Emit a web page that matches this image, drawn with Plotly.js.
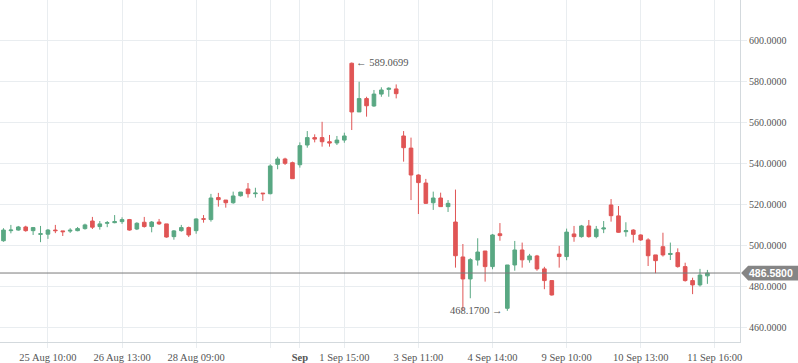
<!DOCTYPE html>
<html>
<head>
<meta charset="utf-8">
<script src="https://cdn.plot.ly/plotly-3.0.1.min.js"></script>
<style>
html,body{margin:0;padding:0;background:#fff;}
#chart{width:798px;height:363px;}
</style>
</head>
<body>
<div id="chart"></div>
<script>
// Trading sessions: [day label, first hour, last hour] (hourly bars)
const sessions = [
  ['24 Aug', 11, 15], ['25 Aug', 9, 15], ['26 Aug', 9, 15], ['27 Aug', 9, 15],
  ['28 Aug', 9, 15], ['31 Aug', 9, 15], ['1 Sep', 9, 15], ['2 Sep', 9, 15],
  ['3 Sep', 9, 15], ['4 Sep', 9, 15], ['8 Sep', 9, 15], ['9 Sep', 9, 15],
  ['10 Sep', 9, 15], ['11 Sep', 9, 15]
];

const open = [
  502.3, 507.2, 507.5, 509.0, 507.2, 505.4, 505.5, 507.5, 507.1, 507.0,
  507.2, 508.2, 511.9, 509.2, 510.8, 511.1, 511.6, 512.6, 508.0, 511.3,
  509.2, 511.4, 510.5, 504.3, 507.2, 508.7, 507.2, 513.0, 512.6, 523.3,
  522.1, 520.8, 524.2, 527.5, 525.2, 525.5, 525.2, 539.5, 542.1, 540.3,
  539.3, 548.9, 552.5, 552.5, 550.5, 549.9, 551.3, 588.7, 565.0, 571.5,
  567.9, 573.7, 576.0, 576.2, 553.3, 547.4, 534.3, 530.4, 520.8, 523.1,
  518.9, 511.4, 494.4, 483.7, 492.9, 497.3, 489.7, 505.7, 469.4, 490.5,
  497.8, 493.0, 494.9, 488.6, 482.9, 495.8, 494.6, 505.6, 504.3, 509.5,
  504.3, 508.0, 519.7, 514.4, 506.7, 507.5, 505.1, 502.7, 495.4, 499.4,
  495.6, 496.5, 489.7, 482.9, 480.8, 485.2
];
const high = [
  508.4, 510.0, 509.5, 509.6, 509.0, 509.5, 508.0, 510.0, 507.1, 508.4,
  509.0, 510.6, 513.9, 511.9, 511.9, 514.8, 513.7, 512.9, 511.3, 513.9,
  511.9, 512.9, 510.5, 507.5, 510.0, 509.2, 513.2, 514.8, 525.1, 525.6,
  522.1, 526.2, 526.0, 530.4, 528.1, 525.5, 539.5, 543.2, 542.7, 540.8,
  550.2, 555.7, 554.1, 560.2, 553.8, 553.3, 554.9, 589.0699, 579.7, 572.4,
  575.7, 577.0, 577.0, 578.4, 555.7, 552.5, 534.6, 532.4, 526.2, 525.7,
  522.1, 527.2, 500.7, 493.8, 503.5, 497.3, 505.6, 510.9, 490.5, 502.2,
  501.4, 495.9, 495.4, 489.6, 482.9, 499.8, 508.2, 509.5, 510.0, 512.4,
  509.5, 511.9, 522.6, 519.2, 511.3, 507.9, 505.4, 503.5, 495.4, 506.2,
  501.4, 498.6, 491.6, 484.3, 488.6, 488.1
];
const low = [
  501.8, 505.9, 507.2, 506.7, 505.1, 501.6, 503.2, 506.0, 504.6, 506.1,
  506.9, 507.7, 508.0, 507.7, 508.9, 510.8, 510.5, 507.2, 507.5, 508.7,
  506.4, 510.0, 503.8, 502.8, 506.7, 504.1, 505.7, 511.1, 511.6, 518.9,
  518.4, 520.3, 523.8, 523.3, 523.3, 521.7, 524.9, 537.1, 539.2, 532.5,
  537.9, 547.6, 550.2, 548.1, 548.1, 548.9, 550.0, 556.2, 565.0, 562.7,
  567.5, 572.4, 572.4, 571.6, 540.8, 522.1, 515.3, 520.2, 517.3, 518.9,
  516.3, 489.2, 468.4, 474.3, 490.2, 482.4, 488.4, 502.3, 468.17, 487.7,
  489.2, 491.6, 487.7, 478.7, 475.6, 489.2, 492.8, 501.8, 503.8, 503.8,
  503.5, 506.0, 511.6, 506.2, 504.3, 501.4, 502.2, 490.0, 486.5, 494.6,
  492.9, 489.2, 482.4, 476.3, 480.0, 481.3
];
const close = [
  507.5, 507.5, 509.0, 507.2, 508.7, 505.7, 507.5, 507.2, 506.7, 507.4,
  508.2, 510.0, 508.9, 510.5, 511.1, 511.6, 512.6, 507.5, 510.8, 509.2,
  511.4, 510.5, 504.1, 507.1, 508.7, 505.1, 512.9, 512.8, 523.1, 522.3,
  520.8, 524.1, 526.0, 525.2, 525.5, 525.2, 538.7, 542.1, 540.0, 532.5,
  548.6, 552.5, 551.8, 550.5, 549.9, 551.3, 553.3, 565.0, 571.5, 568.0,
  573.7, 575.7, 576.5, 573.9, 547.6, 534.3, 530.6, 520.5, 523.1, 518.9,
  520.5, 495.0, 483.7, 493.1, 496.8, 489.7, 505.1, 504.8, 490.5, 497.8,
  493.0, 494.9, 488.6, 482.9, 475.9, 494.6, 506.5, 504.3, 509.5, 504.3,
  507.9, 508.5, 514.5, 506.4, 507.2, 505.4, 502.7, 495.0, 492.6, 495.4,
  496.1, 489.7, 482.9, 480.8, 485.6, 486.58
];

// x-axis ticks (bar positions) and their labels
const tickIdx   = [6, 16, 26, 36, 40, 46, 56, 66, 76, 86, 96];
const tickLabels = ['25 Aug 10:00', '26 Aug 13:00', '28 Aug 09:00', '', '<b>Sep</b>',
  '1 Sep 15:00', '3 Sep 11:00', '4 Sep 14:00', '9 Sep 10:00', '10 Sep 13:00', '11 Sep 16:00'];

const lastPrice = 486.58;
const maxHigh = 589.0699;
const minLow = 468.17;

// build bar labels
const times = [];
sessions.forEach(s => {
  for (let h = s[1]; h <= s[2]; h++) times.push(s[0] + ' ' + (h < 10 ? '0' : '') + h + ':00');
});
const xs = times.map((t, i) => i);
const iMax = high.indexOf(maxHigh);
const iMin = low.indexOf(minLow);

const green = '#59a883';
const red = '#e05555';

const trace = {
  type: 'candlestick',
  x: xs, open: open, high: high, low: low, close: close,
  text: times, hoverinfo: 'text',
  whiskerwidth: 0,
  increasing: {line: {color: green, width: 1}, fillcolor: green},
  decreasing: {line: {color: red, width: 1}, fillcolor: red}
};

const gridC = '#e9edf0';
const lineC = '#d3d9dd';
const tagC = '#858585';

const layout = {
  width: 798, height: 363,
  margin: {l: 0, r: 58, t: 0, b: 21, pad: 0},
  paper_bgcolor: '#ffffff', plot_bgcolor: '#ffffff',
  showlegend: false,
  boxgap: 0.3,
  xaxis: {
    type: 'linear', range: [-0.47, 99.4],
    tickmode: 'array', tickvals: tickIdx, ticktext: tickLabels,
    showgrid: true, gridcolor: gridC, gridwidth: 1, zeroline: false,
    showline: true, linecolor: lineC, linewidth: 1,
    ticks: 'outside', ticklen: 5, tickcolor: gridC,
    tickfont: {family: 'Liberation Serif', size: 10.5, color: '#555'},
    rangeslider: {visible: false}, fixedrange: true
  },
  yaxis: {
    side: 'right', range: [453.0, 619.5],
    tick0: 0, dtick: 20, tickformat: '.4f',
    showgrid: true, gridcolor: gridC, gridwidth: 1, zeroline: false,
    showline: true, linecolor: lineC, linewidth: 1,
    ticks: 'outside', ticklen: 6, tickcolor: gridC,
    tickfont: {family: 'Liberation Serif', size: 10, color: '#555'},
    fixedrange: true
  },
  shapes: [
    {type: 'line', xref: 'paper', yref: 'y', x0: 0, x1: 1, y0: lastPrice, y1: lastPrice,
     line: {color: '#7a7a7a', width: 1}, layer: 'above'},
    {type: 'path', xref: 'paper', yref: 'y',
     path: 'M 1.0015,' + lastPrice + ' L 1.011,' + (lastPrice + 3.6) + ' L 1.08,' + (lastPrice + 3.6) +
           ' L 1.08,' + (lastPrice - 3.6) + ' L 1.011,' + (lastPrice - 3.6) + ' Z',
     fillcolor: tagC, line: {color: tagC, width: 0}, layer: 'above'}
  ],
  annotations: [
    {xref: 'paper', yref: 'y', x: 1.0425, y: lastPrice, text: '<b>' + lastPrice.toFixed(4) + '</b>',
     showarrow: false, xanchor: 'center', yanchor: 'middle',
     font: {family: 'Liberation Sans', size: 10.5, color: '#ffffff'}},
    {xref: 'x', yref: 'y', x: iMax, y: maxHigh, text: '\u2190 ' + maxHigh.toFixed(4),
     showarrow: false, xanchor: 'left', yanchor: 'middle', xshift: 2,
     font: {family: 'Liberation Serif', size: 10.5, color: '#555'}},
    {xref: 'x', yref: 'y', x: iMin, y: minLow, text: minLow.toFixed(4) + ' \u2192',
     showarrow: false, xanchor: 'right', yanchor: 'middle', xshift: -2,
     font: {family: 'Liberation Serif', size: 10.5, color: '#555'}}
  ]
};

Plotly.newPlot('chart', [trace], layout, {displayModeBar: false, staticPlot: true});
</script>
</body>
</html>
